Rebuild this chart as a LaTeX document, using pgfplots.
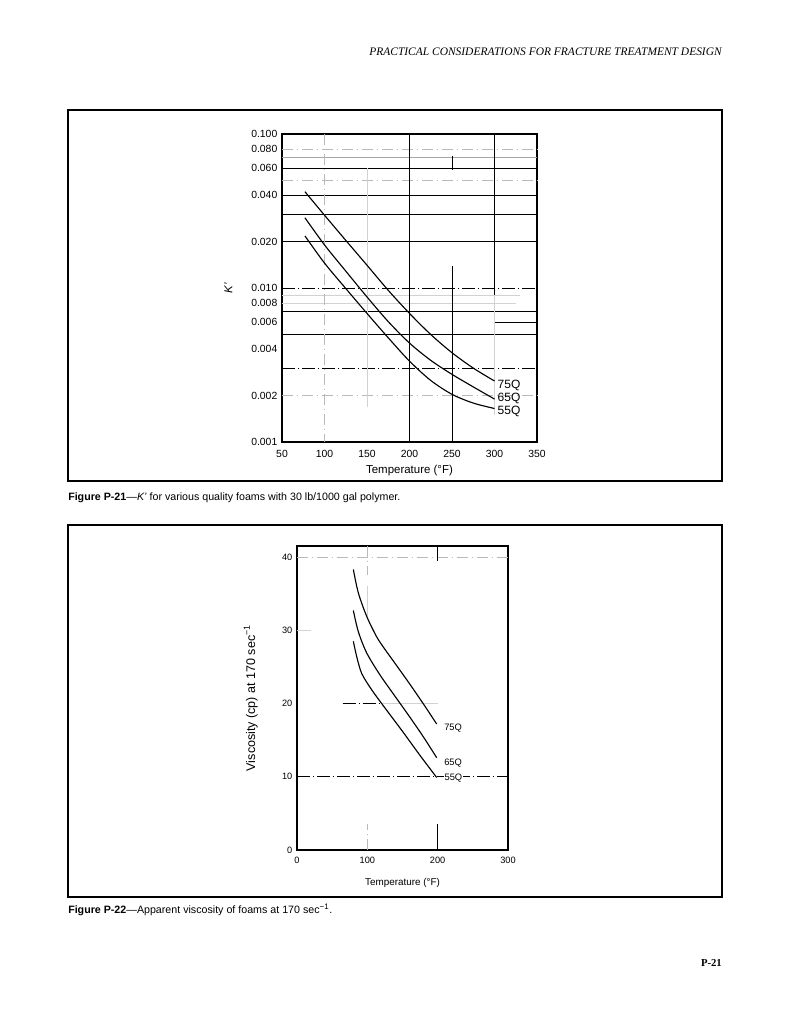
\documentclass[border=0pt]{standalone}
\usepackage{pgfplots}
\pgfplotsset{compat=1.18}
\usepackage{fontspec}
\setmainfont{Liberation Sans}
\newfontfamily\serif{Liberation Serif}

\begin{document}
\begin{tikzpicture}
\path[use as bounding box] (0,0) rectangle (593.25pt,-768pt);

% page furniture, in pixel units of the reference
\begin{scope}[x=0.75pt,y=-0.75pt]
  \node[anchor=east,inner sep=0,font=\serif\itshape\fontsize{8.6}{10}\selectfont] at (722,52)
    {PRACTICAL CONSIDERATIONS FOR FRACTURE TREATMENT DESIGN};
  \draw[line width=1.1pt] (68,110) rectangle (722,481);
  \draw[line width=1.1pt] (68,525) rectangle (722,897);
  \node[anchor=west,inner sep=0,font=\fontsize{8}{9}\selectfont] at (68,498)
    {\textbf{Figure P-21}---\textit{K'} for various quality foams with 30 lb/1000 gal polymer.};
  \node[anchor=west,inner sep=0,font=\fontsize{8}{9}\selectfont] at (68,910)
    {\textbf{Figure P-22}---Apparent viscosity of foams at 170 sec\textsuperscript{−1}.};
  \node[anchor=east,inner sep=0,font=\serif\bfseries\fontsize{8}{9}\selectfont] at (722,963) {P-21};
\end{scope}

\tikzset{
  gk/.style={black,line width=0.6pt},
  gd/.style={black,line width=0.5pt,dash pattern=on 10pt off 2pt on 1pt off 2pt},
  gg/.style={gray!55,line width=0.45pt,dash pattern=on 8pt off 3pt on 1pt off 3pt},
  gl/.style={gray!35,line width=0.4pt},
  crv/.style={black,line width=0.85pt,smooth,mark=none},
}

% ---------------- Figure P-21 ----------------
\begin{axis}[
  at={(282*0.75pt,-442*0.75pt)}, anchor=south west,
  scale only axis, width=191.25pt, height=231pt,
  ymode=log, xmin=50, xmax=350, ymin=0.001, ymax=0.1,
  xtick={50,100,...,350},
  ytick={0.001,0.002,0.004,0.006,0.008,0.01,0.02,0.04,0.06,0.08,0.1},
  yticklabels={0.001,0.002,0.004,0.006,0.008,0.010,0.020,0.040,0.060,0.080,0.100},
  minor ytick={}, major tick length=0pt,
  /pgf/number format/assume math mode=true,
  ticklabel style={font=\fontsize{7.8}{9}\selectfont},
  xticklabel style={yshift=-3pt},
  xlabel={Temperature (°F)}, ylabel={\textit{K'}},
  label style={font=\fontsize{8.6}{10}\selectfont},
  xlabel style={at={(axis description cs:0.5,0)},anchor=north,yshift=-14pt},
  ylabel style={at={(axis description cs:-0.21,0.5)},anchor=center},
  axis line style={line width=0.8pt},
  clip=false,
]
  % grid of the scanned chart paper
  \draw[gg] (axis cs:50,0.08) -- (axis cs:350,0.08);
  \draw[gk,gray!70] (axis cs:50,0.07) -- (axis cs:350,0.07);
  \draw[gk] (axis cs:50,0.06) -- (axis cs:350,0.06);
  \draw[gg] (axis cs:50,0.05) -- (axis cs:350,0.05);
  \draw[gk] (axis cs:50,0.04) -- (axis cs:350,0.04);
  \draw[gk] (axis cs:50,0.03) -- (axis cs:350,0.03);
  \draw[gk] (axis cs:50,0.02) -- (axis cs:350,0.02);
  \draw[gd] (axis cs:50,0.01) -- (axis cs:350,0.01);
  \draw[gl] (axis cs:50,0.009) -- (axis cs:330,0.009);
  \draw[gl] (axis cs:50,0.008) -- (axis cs:325,0.008);
  \draw[gk] (axis cs:50,0.007) -- (axis cs:350,0.007);
  \draw[gk] (axis cs:300,0.006) -- (axis cs:350,0.006);
  \draw[gk] (axis cs:50,0.005) -- (axis cs:350,0.005);
  \draw[gd] (axis cs:50,0.003) -- (axis cs:350,0.003);
  \draw[gg] (axis cs:50,0.002) -- (axis cs:350,0.002);
  \draw[gg] (axis cs:100,0.1) -- (axis cs:100,0.001);
  \draw[gl] (axis cs:150,0.06) -- (axis cs:150,0.0017);
  \draw[gk] (axis cs:200,0.1) -- (axis cs:200,0.001);
  \draw[gk] (axis cs:250,0.014) -- (axis cs:250,0.001);
  \draw[gk] (axis cs:250,0.072) -- (axis cs:250,0.058);
  \draw[gk] (axis cs:300,0.1) -- (axis cs:300,0.009);
  \draw[gl] (axis cs:300,0.009) -- (axis cs:300,0.0015);

  \addplot[crv] coordinates {
    (77,0.0422) (100,0.0297) (125,0.0204) (150,0.01406) (175,0.00966)
    (200,0.00684) (225,0.00499) (250,0.00380) (275,0.00302) (300,0.00249)};
  \addplot[crv] coordinates {
    (77,0.02858) (100,0.01905) (125,0.01288) (150,0.00875) (175,0.00605)
    (200,0.00439) (225,0.00339) (250,0.00275) (275,0.00228) (300,0.00190)};
  \addplot[crv] coordinates {
    (77,0.02178) (100,0.01452) (125,0.00993) (150,0.00684) (175,0.00475)
    (200,0.00335) (225,0.00251) (250,0.00204) (275,0.00179) (300,0.00165)};

  \node[anchor=west,inner sep=0,font=\fontsize{9}{10}\selectfont] at (axis cs:303.5,0.00234) {75Q};
  \node[anchor=west,inner sep=0,font=\fontsize{9}{10}\selectfont] at (axis cs:303.5,0.00192) {65Q};
  \node[anchor=west,inner sep=0,font=\fontsize{9}{10}\selectfont] at (axis cs:303.5,0.00157) {55Q};
\end{axis}

% ---------------- Figure P-22 ----------------
\begin{axis}[
  at={(297*0.75pt,-850*0.75pt)}, anchor=south west,
  scale only axis, width=158.25pt, height=228pt,
  xmin=0, xmax=300, ymin=0, ymax=41.5,
  xtick={0,100,200,300}, ytick={0,10,20,30,40},
  major tick length=0pt,
  /pgf/number format/assume math mode=true,
  ticklabel style={font=\fontsize{6.9}{8}\selectfont},
  xticklabel style={yshift=-1.5pt},
  xlabel={Temperature (°F)}, ylabel={Viscosity (cp) at 170 sec\textsuperscript{−1}},
  xlabel style={font=\fontsize{7.4}{9}\selectfont,at={(axis description cs:0.5,0)},anchor=north,yshift=-17.5pt},
  ylabel style={font=\fontsize{9.4}{11}\selectfont,at={(axis description cs:-0.219,0.5)},anchor=center},
  axis line style={line width=0.8pt},
  clip=false,
]
  \draw[gg] (axis cs:0,40) -- (axis cs:300,40);
  \draw[gl] (axis cs:0,30) -- (axis cs:20,30);
  \draw[gd] (axis cs:65,20) -- (axis cs:120,20);
  \draw[gl] (axis cs:120,20) -- (axis cs:200,20);
  \draw[gd] (axis cs:0,10) -- (axis cs:300,10);
  \draw[gg] (axis cs:100,41.5) -- (axis cs:100,37.5);
  \draw[gl] (axis cs:100,36) -- (axis cs:100,32);
  \draw[gg] (axis cs:100,0) -- (axis cs:100,3.5);
  \draw[gk] (axis cs:200,41.5) -- (axis cs:200,39.5);
  \draw[gk] (axis cs:200,0) -- (axis cs:200,3.5);

  \addplot[crv] coordinates {
    (80.1,38.3) (87.2,35.1) (99.1,31.9) (113.3,29.1) (125,27.4)
    (140,25.4) (160,22.7) (180,19.9) (198.6,17.2)};
  \addplot[crv] coordinates {
    (80.1,32.7) (87.2,29.8) (99.1,26.9) (118,23.9) (140,20.9)
    (160,18.2) (180,15.4) (198.6,12.6)};
  \addplot[crv] coordinates {
    (80.1,28.5) (84.9,26.4) (92,24.1) (106,21.9) (125,19.4)
    (150,16.2) (175,12.9) (198.6,9.9)};

  \node[anchor=west,inner sep=0,font=\fontsize{7}{8}\selectfont] at (axis cs:209,16.6) {75Q};
  \node[anchor=west,inner sep=0,font=\fontsize{7}{8}\selectfont] at (axis cs:209,11.8) {65Q};
  \node[anchor=west,inner sep=0,font=\fontsize{7}{8}\selectfont,fill=white,inner xsep=0.5pt] at (axis cs:208.5,9.8) {55Q};
\end{axis}
\end{tikzpicture}
\end{document}
